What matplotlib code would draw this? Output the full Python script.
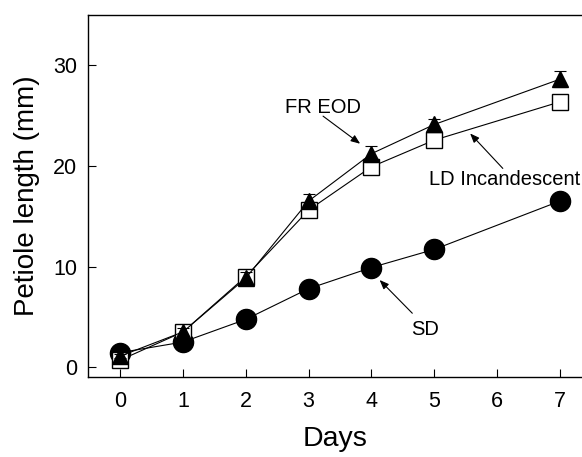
import matplotlib.pyplot as plt

plt.rcParams['font.family'] = ['Liberation Sans', 'DejaVu Sans']

days = [0, 1, 2, 3, 4, 5, 7]
sd = [1.45, 2.5, 4.75, 7.8, 9.9, 11.7, 16.5]
ld_inc = [0.7, 3.5, 9.0, 15.6, 19.9, 22.55, 26.35]
fr_eod = [1.1, 3.5, 8.85, 16.5, 21.2, 24.1, 28.6]
fr_err = [0.2, 0.4, 0.6, 0.7, 0.8, 0.5, 0.8]

fig = plt.figure(figsize=(5.82, 4.57), dpi=100)
ax = fig.add_axes([0.1512, 0.1744, 0.8488, 0.7934])

ax.plot(days, sd, color='black', lw=0.8, marker='o', ms=14.5, mfc='black', mec='black', zorder=3)
ax.plot(days, ld_inc, color='black', lw=0.8, marker='s', ms=11, mfc='white', mec='black', mew=1, zorder=4)
ax.errorbar(days, fr_eod, yerr=fr_err, color='black', lw=0.8, marker='^', ms=11,
            mfc='black', mec='black', capsize=4, elinewidth=0.8, capthick=0.8, zorder=5)

# labels and their arrows
arrow = dict(arrowstyle='-|>,head_length=0.55,head_width=0.22', color='black', lw=0.8, shrinkA=0, shrinkB=0)
ax.text(3.23, 25.23, 'FR EOD', ha='center', va='baseline', fontsize=14.5)
ax.annotate('', xy=(3.82, 22.19), xytext=(3.23, 24.93), arrowprops=arrow)
ax.text(6.12, 18.09, 'LD Incandescent', ha='center', va='baseline', fontsize=14.5)
ax.annotate('', xy=(5.57, 23.21), xytext=(6.09, 19.74), arrowprops=arrow)
ax.text(4.85, 3.21, 'SD', ha='center', va='baseline', fontsize=14.5)
ax.annotate('', xy=(4.13, 8.66), xytext=(4.65, 5.36), arrowprops=arrow)

ax.set_xlim(-0.51, 7.35)
ax.set_ylim(-1, 35)
ax.set_xticks(range(8))
ax.set_yticks([0, 10, 20, 30])
ax.tick_params(direction='in', length=6, width=0.8, labelsize=15.5)
ax.tick_params(axis='x', pad=10)
ax.tick_params(axis='y', pad=8)
ax.spines['right'].set_visible(False)
for s in ['left', 'bottom', 'top']:
    ax.spines[s].set_linewidth(1.0)

ax.set_xlabel('Days', fontsize=20.5, labelpad=10)
ax.set_ylabel('Petiole length (mm)', fontsize=20, labelpad=9)

fig.savefig('out.png', dpi=100)
